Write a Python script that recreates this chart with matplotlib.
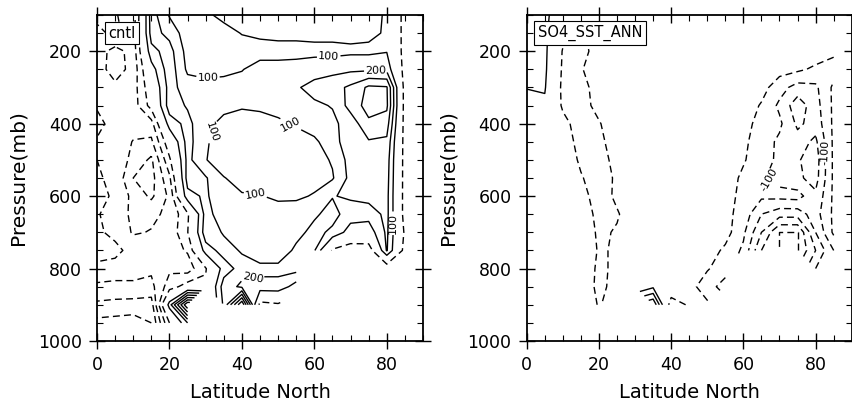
import numpy as np
import matplotlib
matplotlib.use('Agg')
import matplotlib.pyplot as plt
from matplotlib.ticker import MultipleLocator

nan = np.nan

# grid: latitude (deg N) and pressure (mb)
lat = [0, 5, 10, 15, 20, 25, 30, 35, 40, 45, 50, 55, 60, 65, 70, 75, 80, 85]
lev = [100, 150, 200, 250, 300, 350, 400, 450, 500, 550, 600, 650, 700, 750, 800, 850, 900, 950]

# values, one row per pressure level
cntl = [
    [-180, -190, -260, 250, 90, 60, 80, 130, 150, 150, 150, 150, 140, 140, 130, 130, 90, -150],
    [-220, -180, -240, 240, 170, 40, 40, 60, 105, 120, 130, 130, 130, 130, 130, 120, 90, -150],
    [-250, -340, -260, 170, 240, 60, 40, 40, 50, 60, 60, 60, 70, 70, 80, 80, 95, -150],
    [-260, -340, -270, 50, 260, 80, 60, 80, 95, 140, 140, 150, 160, 170, 180, 180, 170, -150],
    [-230, -280, -250, -20, 240, 150, 140, 130, 140, 150, 170, 190, 230, 260, 320, 420, 410, -150],
    [-210, -250, -250, -60, 250, 190, 140, 120, 110, 120, 140, 160, 185, 205, 340, 440, 420, -150],
    [-170, -240, -260, -240, 150, 230, 120, 80, 60, 60, 80, 110, 150, 180, 240, 380, 350, -150],
    [-210, -240, -305, -320, -20, 240, 110, 60, 40, 40, 50, 60, 80, 160, 260, 290, 280, -150],
    [-200, -230, -330, -420, -120, 230, 105, 40, 30, 30, 40, 50, 60, 110, 240, 260, 250, -150],
    [-190, -220, -400, -440, -220, 240, 210, 105, 60, 40, 40, 50, 60, 90, 230, 250, 240, -150],
    [-180, -210, -330, -420, -280, 170, 215, 130, 110, 105, 80, 80, 110, 195, 215, 240, 230, -150],
    [-190, -250, -320, -320, -280, -120, 240, 140, 150, 160, 150, 160, 185, 235, 150, 140, 230, -150],
    [-180, -230, -310, -295, -270, -105, 260, 190, 150, 150, 160, 170, 230, 180, 50, 40, 220, -120],
    [-150, -170, -240, -260, -240, -190, 150, 240, 190, 140, 140, 220, 210, -120, -190, -180, 210, -150],
    [-230, -240, -260, -280, -220, -250, -110, 150, 240, 225, 225, 240, nan, nan, nan, nan, -200, -150],
    [-320, -330, -320, -330, -150, -50, -80, 250, 180, 170, 170, 50, nan, nan, nan, nan, nan, nan],
    [-420, -430, -440, -450, 150, 700, nan, 220, 700, -150, -120, nan, nan, nan, nan, nan, nan, nan],
    [-530, -540, -550, -500, -100, 200, nan, nan, nan, nan, nan, nan, nan, nan, nan, nan, nan, nan],
]

so4_sst_ann = [
    [60, 60, 20, -10, -10, 0, 0, 0, 0, 0, 0, 0, 0, 0, 0, 0, -10, -20],
    [65, 65, -30, -60, -20, 0, 0, 0, 0, 0, 0, 0, 0, 0, 0, 0, -10, -20],
    [65, 65, -55, -70, -25, 0, 0, 0, 0, 0, 0, 0, 0, 0, 0, 0, -20, -40],
    [60, 62, -60, -55, -15, 0, 0, 0, 0, 0, 0, 0, 0, -10, -30, -40, -60, -70],
    [52, 55, -65, -75, -20, -10, 0, 0, 0, 0, 0, 0, -5, -30, -80, -120, -110, -40],
    [30, 40, -60, -75, -30, -10, 0, 0, 0, 0, 0, 0, -20, -55, -110, -180, -120, -40],
    [10, 15, -30, -80, -55, -10, 0, 0, 0, 0, 0, 0, -35, -65, -90, -160, -130, -40],
    [0, 0, -20, -70, -65, -20, 0, 0, 0, 0, 0, -10, -40, -75, -110, -130, -160, -40],
    [0, 0, -10, -60, -75, -30, 0, 0, 0, 0, 0, -15, -45, -80, -110, -145, -175, -40],
    [0, 0, 0, -45, -80, -40, 0, 0, 0, 0, 0, -25, -60, -95, -115, -140, -170, -40],
    [0, 0, 0, -30, -75, -40, -10, 0, 0, 0, -10, -30, -65, -90, -85, -80, -140, -40],
    [0, 0, 0, -20, -65, -55, -20, 0, 0, 0, -20, -35, -70, -150, -180, -180, -120, -40],
    [0, 0, 0, -10, -60, -45, -15, 0, 0, 0, -20, -30, -90, -200, -300, -300, -150, -40],
    [0, 0, 0, -10, -55, -45, -10, 0, 0, -10, -25, -60, -110, -250, -300, -300, -200, -100],
    [0, 0, 0, -15, -60, -40, -10, 0, 0, -20, -45, -80, nan, nan, nan, nan, -150, -100],
    [0, 0, 0, -10, -65, -30, -5, 40, 10, -30, -80, -120, nan, nan, nan, nan, nan, nan],
    [0, 0, 0, -5, -55, nan, nan, 200, -90, -40, -40, nan, nan, nan, nan, nan, nan, nan],
    [0, 0, 0, 0, -10, nan, nan, nan, nan, nan, nan, nan, nan, nan, nan, nan, nan, nan],
]

cntl_levels = [-600, -500, -400, -300, -200, -100, 100, 200, 300, 400, 500, 600]
so4_levels = [-350, -300, -250, -200, -150, -100, -50, 50, 100, 150, 200]

# label spots (lat, mb) for each labelled contour level
cntl_labels = {100: [(30.5, 262), (64, 222), (32.5, 425), (53, 410), (44, 575), (81.5, 675)],
               200: [(77, 254), (43, 828)]}
so4_labels = {-100: [(67, 555), (82, 480)]}

plt.rcParams['font.family'] = ['DejaVu Sans']
plt.rcParams['lines.dashed_pattern'] = [5.0, 3.0]

fig = plt.figure(figsize=(8.53, 4.07), dpi=100)
ax1 = fig.add_axes([0.1137, 0.1622, 0.3822, 0.8010])
ax2 = fig.add_axes([0.6175, 0.1622, 0.3810, 0.8010])


def panel(ax, field, levels, labels, name):
    z = np.ma.masked_invalid(np.array(field, dtype=float))
    plain = [v for v in levels if v not in labels]
    for sign, style in ((-1, 'dashed'), (1, 'solid')):
        lv = [v for v in plain if v * sign > 0]
        ax.contour(lat, lev, z, levels=lv, colors='k', linewidths=1.0, linestyles=style)
    # labelled levels get their own contour set so clabel can find them
    for lv, spots in labels.items():
        cs = ax.contour(lat, lev, z, levels=[lv], colors='k', linewidths=1.0,
                        linestyles='dashed' if lv < 0 else 'solid')
        ax.clabel(cs, manual=spots, inline=True, fmt='%d', fontsize=8, inline_spacing=2)

    ax.set_xlim(0, 90)
    ax.set_ylim(1000, 100)
    ax.set_xticks([0, 20, 40, 60, 80])
    ax.set_yticks([200, 400, 600, 800, 1000])
    ax.xaxis.set_minor_locator(MultipleLocator(5))
    ax.yaxis.set_minor_locator(MultipleLocator(50))
    ax.tick_params(which='major', direction='inout', length=12, width=1.0,
                   top=True, right=True, labelsize=12.5, pad=5)
    ax.tick_params(which='minor', direction='in', length=4, width=0.8, top=True, right=True)
    for s in ax.spines.values():
        s.set_linewidth(1.3)
    ax.set_xlabel('Latitude North', fontsize=14, labelpad=6)
    ax.set_ylabel('Pressure(mb)', fontsize=14.5, labelpad=7)
    ax.text(0.035, 0.944, name, transform=ax.transAxes, fontsize=10.5, ha='left', va='center',
            bbox=dict(boxstyle='square,pad=0.25', fc='white', ec='k', lw=0.8))


panel(ax1, cntl, cntl_levels, cntl_labels, 'cntl')
panel(ax2, so4_sst_ann, so4_levels, so4_labels, 'SO4_SST_ANN')

fig.savefig('out.png', dpi=100)
